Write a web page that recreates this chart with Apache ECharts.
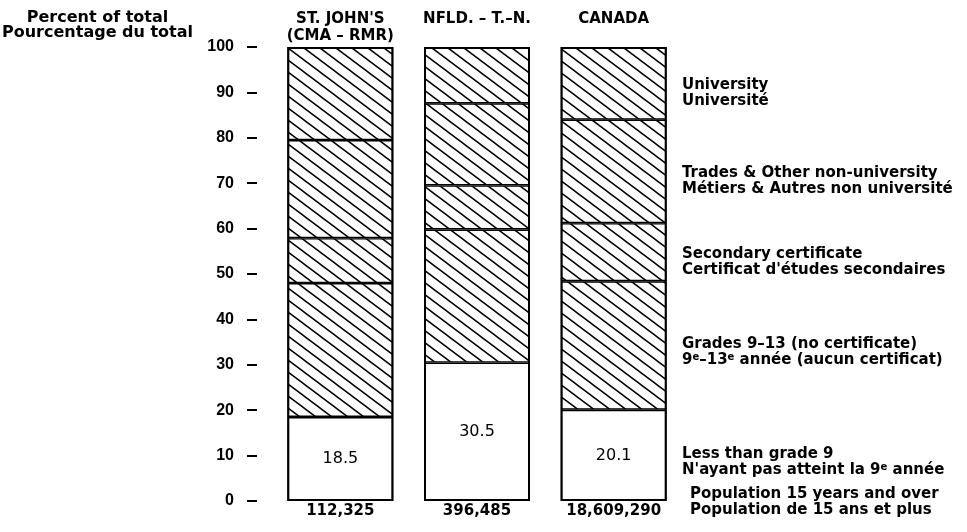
<!DOCTYPE html>
<html>
<head>
<meta charset="utf-8">
<style>
  html, body { margin: 0; padding: 0; background: #fff; }
  #chart { width: 967px; height: 532px; }
</style>
<script src="https://cdn.jsdelivr.net/npm/echarts@6/dist/echarts.min.js"></script>
</head>
<body>
<div id="chart"></div>
<script>
// Areas along the x axis and their population aged 15+
const categories = ["ST. JOHN'S\n(CMA – RMR)", "NFLD. – T.–N.", "CANADA"];
const population = ["112,325", "396,485", "18,609,290"];

// Highest level of schooling, percent of total (stacked bottom to top)
const lessThanGrade9 = [18.5, 30.5, 20.1];
const grades9to13 = [29.5, 29.3, 28.3];
const secondaryCert = [9.9, 9.7, 12.8];
const tradesOther = [21.6, 18.1, 22.8];
const university = [20.5, 12.4, 16.0];

// Y axis ticks
const yTicks = { min: 0, max: 100, interval: 10 };

// Column totals, used for the heavier outline around each column
const totals = categories.map((_, i) =>
  [lessThanGrade9, grades9to13, secondaryCert, tradesOther, university]
    .reduce((s, arr) => s + arr[i], 0));

// Diagonal hatching tile
function makeHatch() {
  const w = 16, h = 12;
  const c = document.createElement('canvas');
  c.width = w; c.height = h;
  const g = c.getContext('2d');
  g.fillStyle = '#fff';
  g.fillRect(0, 0, w, h);
  g.strokeStyle = '#000';
  g.lineWidth = 1.5;
  g.beginPath();
  for (let k = -1; k <= 1; k++) {
    g.moveTo(k * w - w, -h);
    g.lineTo(k * w + 2 * w, 2 * h);
  }
  g.stroke();
  return c;
}
const hatch = { image: makeHatch(), repeat: 'repeat' };

const chart = echarts.init(document.getElementById('chart'), null, { renderer: 'canvas' });

const makeSeries = (name, data, fill, extra) => Object.assign({
  name: name,
  type: 'bar',
  stack: 'total',
  barWidth: 106,
  data: data,
  itemStyle: { color: fill, borderColor: '#000', borderWidth: 1.4 },
  emphasis: { disabled: true },
  silent: true
}, extra || {});

const legendFont = {
  fontFamily: 'DejaVu Sans',
  fontWeight: 'bold',
  fontSize: 15,
  lineHeight: 16,
  fill: '#000'
};
const supStyle = { fontFamily: 'DejaVu Sans', fontWeight: 'bold', fontSize: 10, lineHeight: 10, verticalAlign: 'top', fill: '#000' };

const legendItem = (text, x, y, rich) => ({
  type: 'text',
  left: x,
  top: y,
  style: Object.assign({}, legendFont, {
    text: text,
    textAlign: 'left',
    rich: rich || {}
  })
});

chart.setOption({
  animation: false,
  backgroundColor: '#fff',
  grid: { left: 272, right: 285, top: 47, bottom: 31 },
  xAxis: [
    {
      type: 'category',
      position: 'top',
      data: categories,
      axisLine: { show: false },
      axisTick: { show: false },
      axisLabel: {
        interval: 0,
        margin: 36,
        verticalAlign: 'top',
        fontFamily: 'DejaVu Sans',
        fontWeight: 'bold',
        fontSize: 15,
        lineHeight: 17,
        color: '#000'
      }
    },
    {
      type: 'category',
      position: 'bottom',
      data: population,
      axisLine: { show: false },
      axisTick: { show: false },
      axisLabel: {
        interval: 0,
        margin: 3,
        fontFamily: 'DejaVu Sans',
        fontWeight: 'bold',
        fontSize: 15,
        color: '#000'
      }
    }
  ],
  yAxis: {
    type: 'value',
    min: yTicks.min,
    max: yTicks.max,
    interval: yTicks.interval,
    offset: 15,
    splitLine: { show: false },
    axisLine: { show: false },
    axisTick: { show: true, length: 10, lineStyle: { color: '#000', width: 2 } },
    axisLabel: {
      margin: 23,
      fontFamily: 'Liberation Sans',
      fontWeight: 'bold',
      fontSize: 16,
      color: '#000'
    }
  },
  series: [
    makeSeries('Less than grade 9', lessThanGrade9, '#fff', {
      label: {
        show: true,
        position: 'inside',
        fontFamily: 'DejaVu Sans',
        fontSize: 16,
        color: '#000',
        formatter: (p) => p.value.toFixed(1)
      }
    }),
    makeSeries('Grades 9-13', grades9to13, hatch),
    makeSeries('Secondary certificate', secondaryCert, hatch),
    makeSeries('Trades & Other non-university', tradesOther, hatch),
    makeSeries('University', university, hatch),
    {
      name: 'outline',
      type: 'bar',
      barWidth: 106,
      barGap: '-100%',
      data: totals,
      itemStyle: { color: 'rgba(0,0,0,0)', borderColor: '#000', borderWidth: 2 },
      emphasis: { disabled: true },
      silent: true,
      z: 3
    }
  ],
  graphic: [
    {
      type: 'text',
      left: 2,
      top: 10,
      style: {
        text: 'Percent of total\nPourcentage du total',
        fontFamily: 'DejaVu Sans',
        fontWeight: 'bold',
        fontSize: 16,
        lineHeight: 15,
        textAlign: 'center',
        fill: '#000',
        width: 190
      }
    },
    legendItem('University\nUniversité', 682, 77),
    legendItem('Trades & Other non-university\nMétiers & Autres non université', 682, 165),
    legendItem('Secondary certificate\nCertificat d\'études secondaires', 682, 246),
    legendItem('Grades 9–13 (no certificate)\n9{s|e}–13{s|e} année (aucun certificat)', 682, 336, { s: supStyle }),
    legendItem('Less than grade 9\nN\'ayant pas atteint la 9{s|e} année', 682, 446, { s: supStyle }),
    legendItem('Population 15 years and over\nPopulation de 15 ans et plus', 690, 486)
  ]
});
</script>
</body>
</html>
